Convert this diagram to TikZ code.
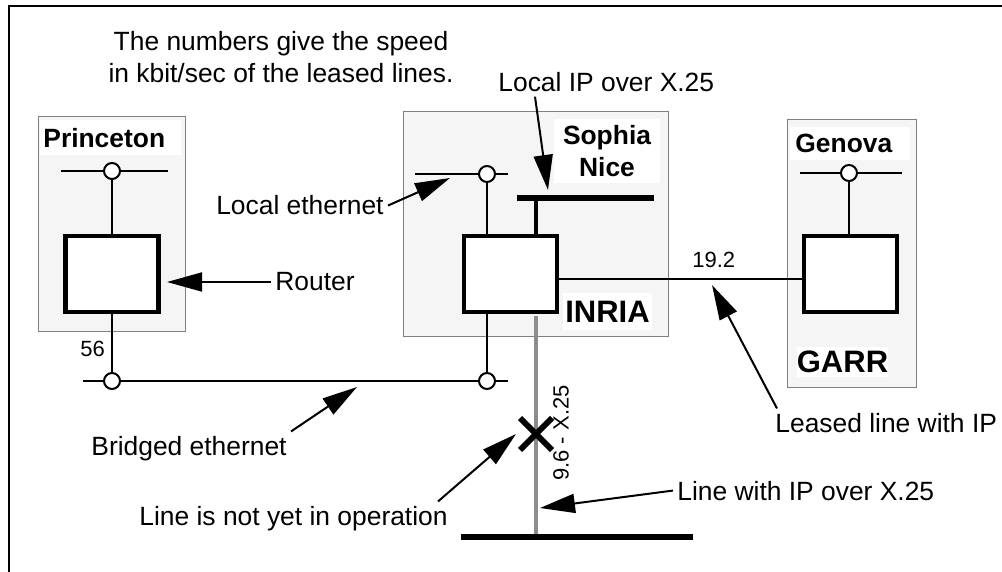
\documentclass[tikz,border=0pt]{standalone}
\usepackage{fontspec}
\setmainfont{Liberation Sans}
\usetikzlibrary{arrows.meta,shapes.misc}
\definecolor{sitegray}{gray}{0.96}
\definecolor{x25gray}{gray}{0.55}

\begin{document}
\begin{tikzpicture}[x=0.5pt,y=-0.5pt,
note/.style={font=\fontsize{13.2}{16}\selectfont,inner sep=2pt},
small/.style={font=\fontsize{11}{13}\selectfont,inner sep=0pt},
site/.style={draw=gray,fill=sitegray,line width=0.5pt},
tag/.style={fill=white,inner sep=0pt,
font=\bfseries\fontsize{13.2}{16}\selectfont},
bigtag/.style={tag,font=\bfseries\fontsize{15.5}{18}\selectfont},
router/.style={draw,fill=white,line width=2.25pt,
minimum width=46.5pt,minimum height=38pt,inner sep=0pt},
port/.style={circle,draw,fill=white,line width=1pt,
minimum size=8pt,inner sep=0pt},
lan/.style={line width=1pt},
bar/.style={line width=3pt},
pointer/.style={line width=1pt,-{Triangle[length=17.5pt,width=9.5pt]}}]
\useasboundingbox (0,0) rectangle (1002,572);
\draw[line width=1.4pt] (9,572)--(9,6)--(1002,6);
% sites
\node[site,minimum width=73.5pt,minimum height=107.5pt]at(111.5,224.5)(princeton){};
\node[site,minimum width=132.5pt,minimum height=112.5pt]at(535.5,224.5)(inria){};
\node[site,minimum width=64.5pt,minimum height=134pt]at(851.5,254)(genova){};
\node[tag,anchor=north west,minimum height=17.5pt,text width=67.5pt,inner xsep=1.5pt]at(40,120)(princetontag){Princeton};
\node[tag,anchor=north west,minimum height=16.5pt,text width=55pt,inner xsep=2.5pt]at(790,127)(genovatag){Genova};
\node[tag,align=center,minimum width=53pt,minimum height=32pt]at(607,151)(sophiatag){Sophia\\Nice};
\node[bigtag,minimum width=44.5pt,minimum height=18.5pt]at(607.5,311.5)(inriatag){INRIA};
\node[bigtag,minimum width=45.5pt,minimum height=15pt]at(842.5,362)(garrtag){GARR};
% routers and ports
\node[router]at(112,274)(prouter){};
\node[router]at(510.5,274)(irouter){};
\node[router]at(850.5,274)(grouter){};
\node[port]at(112,171)(pport){};
\node[port]at(487,174)(iport){};
\node[port]at(849,173)(gport){};
\node[port]at(112,381)(pbport){};
\node[port]at(487,381)(ibport){};
\coordinate (pl) at (61,171); \coordinate (pr) at (168,171);
\coordinate (il) at (415,174); \coordinate (ir) at (508,174);
\coordinate (gl) at (800,173); \coordinate (gr) at (902,173);
\coordinate (bl) at (83,381); \coordinate (br) at (508,381);
\coordinate (barl) at (517,198); \coordinate (barr) at (654,198);
\coordinate (barjoin) at (536,198);
\coordinate (x25l) at (461,537); \coordinate (x25r) at (693,537);
\coordinate (x25join) at (536,537);
% networks
\draw[lan] (pl)--(pport)--(pr);
\draw[lan] (il)--(iport)--(ir);
\draw[lan] (gl)--(gport)--(gr);
\draw[lan] (bl)--(pbport)--(ibport)--(br);
\draw[lan] (pport)--(prouter)--(pbport);
\draw[lan] (iport)--(iport|-irouter.north);
\draw[lan] (ibport)--(ibport|-irouter.south);
\draw[lan] (gport)--(gport|-grouter.north);
\draw[lan] ([yshift=-2.75pt]irouter.east)--([yshift=-2.75pt]grouter.west);
\draw[bar] (barl)--(barr);
\draw[line width=2pt] (barjoin)--(barjoin|-irouter.north);
\draw[x25gray,line width=2pt,shorten <=1.1pt] (x25join|-irouter.south)--(x25join);
\draw[bar] (x25l)--(x25r);
\node[cross out,draw,line width=3pt,minimum size=13pt,inner sep=0pt]at(536,434)(cutx){};
% labels
\node[note,align=center]at(281,57)(legend){The numbers give the speed\\in kbit/sec of the leased lines.};
\node[small,anchor=base west]at(80,357)(speed56){56};
\node[small,anchor=base west]at(692,268)(speed192){19.2};
\node[small,rotate=90]at(561,433)(speedx25){9.6 - X.25};
\node[note,anchor=base east]at(388,215)(lethtxt){Local ethernet};
\node[note,anchor=base west]at(494,92)(iptxt){Local IP over X.25};
\node[note,anchor=west]at(271,282)(routertxt){Router};
\node[note,anchor=base west]at(87,455)(bridgetxt){Bridged ethernet};
\node[note,anchor=base west]at(135,525)(opertxt){Line is not yet in operation};
\node[note,anchor=base west]at(771,432)(leasedtxt){Leased line with IP};
\node[note,anchor=base west]at(673,500)(x25txt){Line with IP over X.25};
\coordinate (lethtip) at (450,178);
\coordinate (iptip) at (548,190);
\coordinate (routertip) at (167,282);
\coordinate (bridgetip) at (357,387);
\coordinate (leasedtip) at (712,285);
\coordinate (x25tip) at (540,508);
\draw[pointer] (lethtxt.east)--(lethtip);
\draw[pointer] ([xshift=20.5pt]iptxt.south west)--(iptip);
\draw[pointer] (routertxt.west)--(routertip);
\draw[pointer] (bridgetxt.north east)--(bridgetip);
\draw[pointer] ([xshift=-7pt]opertxt.north east)--([xshift=-2pt]cutx.west);
\draw[pointer] ([xshift=3pt]leasedtxt.north west)--(leasedtip);
\draw[pointer] (x25txt.west)--(x25tip);
\end{tikzpicture}
\end{document}
